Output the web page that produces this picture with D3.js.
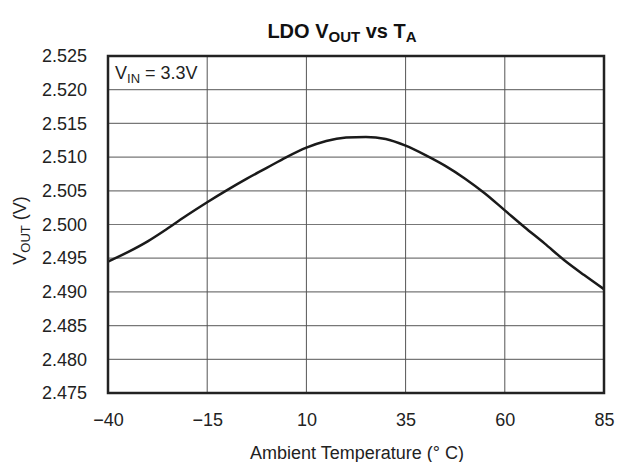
<!DOCTYPE html>
<html><head><meta charset="utf-8">
<script src="https://cdn.jsdelivr.net/npm/d3@7"></script>
<style>body{margin:0;background:#fff;} svg{display:block;font-family:"Liberation Sans",Arial,sans-serif;}</style>
</head><body>
<svg id="c" width="619" height="462"></svg>
<script>
const temps = [-40,-35,-30,-25,-20,-15,-10,-5,0,5,10,15,20,25,30,35,40,45,50,55,60,65,70,75,80,85];
const vout  = [2.4945,2.4959,2.4975,2.4994,2.5014,2.5033,2.5051,2.5068,2.5084,2.5100,2.5114,2.5124,2.5129,2.5130,2.5127,2.5117,2.5103,2.5087,2.5068,2.5046,2.5021,2.4996,2.4972,2.4947,2.4925,2.4904];
const xTicks = [-40,-15,10,35,60,85];
const yTicks = [2.475,2.480,2.485,2.490,2.495,2.500,2.505,2.510,2.515,2.520,2.525];

const L=108,R=604,T=56,B=393;
const svg=d3.select("#c");
const x=d3.scaleLinear().domain([-40,85]).range([L,R]);
const y=d3.scaleLinear().domain([2.475,2.525]).range([B,T]);

// grid
svg.append("g").selectAll("line").data(yTicks.slice(1,-1)).join("line")
  .attr("x1",L).attr("x2",R).attr("y1",d=>y(d)).attr("y2",d=>y(d))
  .attr("stroke","#777").attr("stroke-width",1.2);
svg.append("g").selectAll("line").data(xTicks.slice(1,-1)).join("line")
  .attr("y1",T).attr("y2",B).attr("x1",d=>x(d)).attr("x2",d=>x(d))
  .attr("stroke","#555").attr("stroke-width",1);

// axes labels via d3 axes
const fmtX=d=>d<0?"\u2212"+Math.abs(d):String(d);
const ax=svg.append("g").attr("transform",`translate(0,${B})`)
  .call(d3.axisBottom(x).tickValues(xTicks).tickFormat(fmtX).tickSize(0).tickPadding(20));
const ay=svg.append("g").attr("transform",`translate(${L},0)`)
  .call(d3.axisLeft(y).tickValues(yTicks).tickFormat(d3.format(".3f")).tickSize(0).tickPadding(21));
[ax,ay].forEach(g=>{g.select(".domain").remove();
  g.selectAll("text").attr("font-size",18).attr("fill","#222").attr("font-family","Liberation Sans, Arial, sans-serif");});

// curve
const line=d3.line().x((d,i)=>x(temps[i])).y(d=>y(d)).curve(d3.curveMonotoneX);
svg.append("path").datum(vout).attr("d",line).attr("fill","none")
  .attr("stroke","#1a1a1a").attr("stroke-width",2.5).attr("stroke-linejoin","round");

// border
svg.append("rect").attr("x",L).attr("y",T).attr("width",R-L).attr("height",B-T)
  .attr("fill","none").attr("stroke","#222").attr("stroke-width",2.5);

// annotation
const ann=svg.append("text").attr("x",115).attr("y",79).attr("font-size",18).attr("fill","#222");
ann.append("tspan").text("V");
ann.append("tspan").attr("font-size",13).attr("dy",4).text("IN");
ann.append("tspan").attr("dy",-4).text(" = 3.3V");

// title
const t=svg.append("text").attr("x",342).attr("y",38).attr("text-anchor","middle")
  .attr("font-size",20).attr("font-weight","bold").attr("fill","#111");
t.append("tspan").text("LDO V");
t.append("tspan").attr("font-size",15).attr("dy",4).text("OUT");
t.append("tspan").attr("dy",-4).text(" vs T");
t.append("tspan").attr("font-size",15).attr("dy",4).text("A");

// x title
svg.append("text").attr("x",357).attr("y",459).attr("text-anchor","middle")
  .attr("font-size",18).attr("fill","#222").text("Ambient Temperature (\u00B0 C)");

// y title
const yt=svg.append("text").attr("transform",`translate(26,${(T+B)/2+6}) rotate(-90)`)
  .attr("text-anchor","middle").attr("font-size",18).attr("fill","#222");
yt.append("tspan").text("V");
yt.append("tspan").attr("font-size",13).attr("dy",4).text("OUT");
yt.append("tspan").attr("dy",-4).text(" (V)");
</script>
</body></html>
